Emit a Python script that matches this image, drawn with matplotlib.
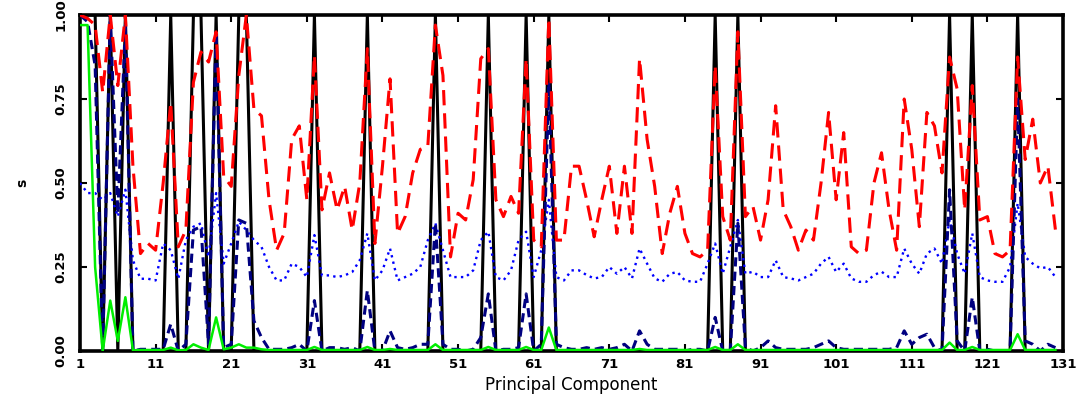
import numpy as np
import matplotlib
matplotlib.use("Agg")
import matplotlib.pyplot as plt

# === Data: one value per principal component (1..130) ===
component = np.arange(1, 131)

# black: selected components (0/1)
selected = [
    1, 1, 1, 0, 1, 0, 1, 0, 0, 0,
    0, 0, 1, 0, 0, 1, 1, 0, 1, 0,
    0, 1, 1, 0, 0, 0, 0, 0, 0, 0,
    0, 1, 0, 0, 0, 0, 0, 0, 1, 0,
    0, 0, 0, 0, 0, 0, 0, 1, 0, 0,
    0, 0, 0, 0, 1, 0, 0, 0, 0, 1,
    0, 0, 1, 0, 0, 0, 0, 0, 0, 0,
    0, 0, 0, 0, 0, 0, 0, 0, 0, 0,
    0, 0, 0, 0, 1, 0, 0, 1, 0, 0,
    0, 0, 0, 0, 0, 0, 0, 0, 0, 0,
    0, 0, 0, 0, 0, 0, 0, 0, 0, 0,
    0, 0, 0, 0, 0, 1, 0, 0, 1, 0,
    0, 0, 0, 0, 1, 0, 0, 0, 0, 0,
]

# red dashed
s_red = [
    1.00, 0.99, 0.97, 0.77, 1.00, 0.79, 1.00, 0.55, 0.29, 0.32,
    0.30, 0.50, 0.74, 0.31, 0.36, 0.80, 0.89, 0.86, 0.95, 0.52,
    0.49, 0.82, 1.00, 0.72, 0.70, 0.45, 0.30, 0.35, 0.63, 0.67,
    0.45, 0.88, 0.42, 0.53, 0.42, 0.49, 0.36, 0.50, 0.90, 0.32,
    0.55, 0.81, 0.35, 0.40, 0.53, 0.60, 0.61, 0.97, 0.82, 0.28,
    0.41, 0.39, 0.51, 0.87, 0.90, 0.45, 0.40, 0.46, 0.41, 0.87,
    0.33, 0.31, 0.99, 0.33, 0.33, 0.55, 0.55, 0.45, 0.34, 0.45,
    0.55, 0.35, 0.55, 0.35, 0.87, 0.63, 0.49, 0.29, 0.41, 0.49,
    0.35, 0.29, 0.28, 0.30, 0.85, 0.40, 0.33, 0.95, 0.40, 0.43,
    0.33, 0.45, 0.73, 0.42, 0.37, 0.30, 0.36, 0.33, 0.50, 0.71,
    0.45, 0.65, 0.31, 0.29, 0.30, 0.50, 0.59, 0.42, 0.30, 0.75,
    0.60, 0.37, 0.71, 0.67, 0.53, 0.875, 0.78, 0.42, 0.79, 0.39,
    0.40, 0.29, 0.28, 0.30, 0.875, 0.57, 0.69, 0.50, 0.55, 0.36,
]

# blue dotted
s_dot = [
    0.50, 0.47, 0.47, 0.45, 0.47, 0.40, 0.48, 0.27, 0.215, 0.215,
    0.21, 0.32, 0.30, 0.215, 0.33, 0.37, 0.38, 0.28, 0.47, 0.26,
    0.32, 0.385, 0.36, 0.33, 0.31, 0.25, 0.21, 0.21, 0.26, 0.25,
    0.22, 0.345, 0.225, 0.225, 0.22, 0.225, 0.235, 0.27, 0.35, 0.21,
    0.24, 0.305, 0.21, 0.22, 0.23, 0.25, 0.33, 0.38, 0.30, 0.22,
    0.22, 0.22, 0.24, 0.33, 0.355, 0.22, 0.21, 0.24, 0.33, 0.355,
    0.22, 0.30, 0.45, 0.22, 0.21, 0.24, 0.24, 0.226, 0.216, 0.22,
    0.25, 0.23, 0.25, 0.216, 0.305, 0.26, 0.216, 0.206, 0.23, 0.235,
    0.21, 0.206, 0.206, 0.26, 0.32, 0.23, 0.31, 0.39, 0.23, 0.236,
    0.22, 0.22, 0.27, 0.22, 0.216, 0.21, 0.22, 0.23, 0.26, 0.28,
    0.235, 0.26, 0.216, 0.206, 0.206, 0.226, 0.236, 0.22, 0.22, 0.305,
    0.26, 0.23, 0.29, 0.305, 0.26, 0.39, 0.29, 0.23, 0.35, 0.22,
    0.21, 0.206, 0.206, 0.25, 0.44, 0.28, 0.26, 0.246, 0.25, 0.22,
]

# navy dashed
s_navy = [
    1.00, 0.98, 0.85, 0.00, 1.00, 0.41, 0.97, 0.00, 0.005, 0.005,
    0.005, 0.005, 0.08, 0.00, 0.02, 0.36, 0.37, 0.02, 0.95, 0.01,
    0.02, 0.39, 0.38, 0.09, 0.04, 0.005, 0.005, 0.005, 0.01, 0.02,
    0.00, 0.15, 0.00, 0.01, 0.01, 0.005, 0.01, 0.00, 0.18, 0.00,
    0.00, 0.06, 0.01, 0.005, 0.01, 0.02, 0.02, 0.38, 0.02, 0.005,
    0.005, 0.00, 0.005, 0.04, 0.17, 0.00, 0.005, 0.005, 0.01, 0.17,
    0.00, 0.02, 0.80, 0.02, 0.01, 0.005, 0.005, 0.01, 0.005, 0.01,
    0.005, 0.01, 0.02, 0.00, 0.06, 0.02, 0.005, 0.005, 0.005, 0.005,
    0.00, 0.005, 0.005, 0.00, 0.10, 0.00, 0.00, 0.38, 0.01, 0.00,
    0.01, 0.03, 0.01, 0.005, 0.005, 0.005, 0.005, 0.01, 0.02, 0.03,
    0.01, 0.005, 0.005, 0.005, 0.005, 0.005, 0.005, 0.005, 0.01, 0.06,
    0.02, 0.04, 0.05, 0.01, 0.00, 0.48, 0.03, 0.00, 0.16, 0.00,
    0.005, 0.00, 0.00, 0.00, 0.75, 0.03, 0.02, 0.00, 0.02, 0.01,
]

# green solid
s_green = [
    0.97, 0.97, 0.25, 0.00, 0.15, 0.03, 0.16, 0.002, 0.003, 0.003,
    0.003, 0.003, 0.01, 0.002, 0.003, 0.02, 0.01, 0.003, 0.10, 0.005,
    0.01, 0.02, 0.01, 0.01, 0.005, 0.003, 0.003, 0.003, 0.003, 0.003,
    0.003, 0.012, 0.003, 0.003, 0.003, 0.003, 0.003, 0.003, 0.012, 0.003,
    0.003, 0.006, 0.003, 0.003, 0.003, 0.003, 0.003, 0.02, 0.003, 0.003,
    0.003, 0.003, 0.003, 0.003, 0.012, 0.003, 0.003, 0.003, 0.003, 0.012,
    0.003, 0.003, 0.07, 0.003, 0.003, 0.003, 0.003, 0.003, 0.003, 0.003,
    0.003, 0.003, 0.003, 0.003, 0.006, 0.003, 0.003, 0.003, 0.003, 0.003,
    0.003, 0.003, 0.003, 0.003, 0.012, 0.003, 0.003, 0.02, 0.003, 0.003,
    0.003, 0.003, 0.003, 0.003, 0.003, 0.003, 0.003, 0.003, 0.003, 0.003,
    0.003, 0.003, 0.003, 0.003, 0.003, 0.003, 0.003, 0.003, 0.003, 0.003,
    0.003, 0.003, 0.003, 0.003, 0.003, 0.025, 0.003, 0.003, 0.012, 0.003,
    0.003, 0.003, 0.003, 0.003, 0.05, 0.003, 0.003, 0.003, 0.003, 0.003,
]

x_ticks = [1, 11, 21, 31, 41, 51, 61, 71, 81, 91, 101, 111, 121, 131]
y_ticks = [0.0, 0.25, 0.5, 0.75, 1.0]
y_labels = ["0.00", "0.25", "0.50", "0.75", "1.00"]

# === Plot ===
plt.rcParams["font.family"] = "DejaVu Sans"
fig = plt.figure(figsize=(10.86, 4.0), dpi=100)
ax = fig.add_axes([80 / 1086, 1 - 351 / 400, 983 / 1086, 336 / 400])

ax.plot(component, selected, color="black", lw=2.2, zorder=2)
ax.plot(component, s_dot, color="#0000ff", lw=1.7, dashes=(1, 1.8), zorder=3)
ax.plot(component, s_navy, color="#000080", lw=2.2, dashes=(3, 1.7), zorder=4)
ax.plot(component, s_red, color="#ff0000", lw=2.2, dashes=(5, 2.6), zorder=5)
ax.plot(component, s_green, color="#00ee00", lw=1.8, zorder=6)

ax.set_xlim(1, 131)
ax.set_ylim(0, 1)
ax.set_xticks(x_ticks)
ax.set_xticklabels([str(t) for t in x_ticks], fontsize=9.5, fontweight="bold")
ax.set_yticks(y_ticks)
ax.set_yticklabels(y_labels, fontsize=9.5, fontweight="bold",
                   rotation=90, va="center")
ax.tick_params(direction="in", length=5, width=1.5,
               top=True, right=True, pad=5)
ax.tick_params(axis="y", pad=9)
for sp in ax.spines.values():
    sp.set_linewidth(2.6)

ax.set_xlabel("Principal Component", fontsize=12, labelpad=4)
ax.set_ylabel("s", fontsize=10, fontweight="bold", labelpad=18)

fig.savefig("out.png", dpi=100)
